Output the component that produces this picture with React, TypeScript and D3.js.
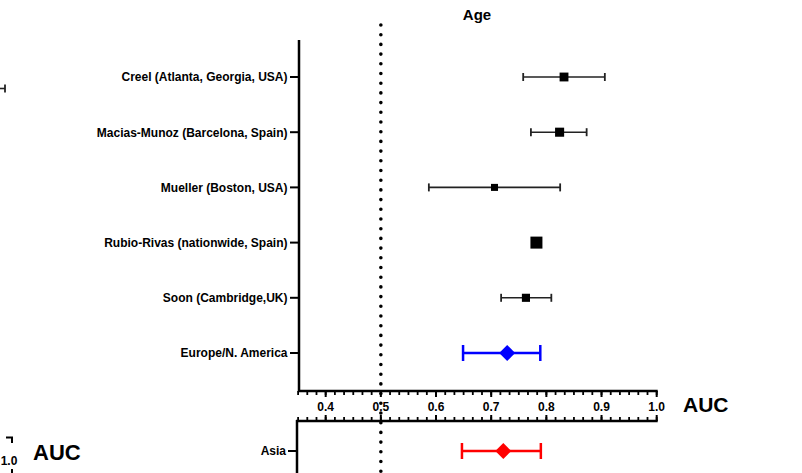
import React from "react";
import * as d3 from "d3";

// ---- data ----
const studies = [
  "Creel (Atlanta, Georgia, USA)",
  "Macias-Munoz (Barcelona, Spain)",
  "Mueller (Boston, USA)",
  "Rubio-Rivas (nationwide, Spain)",
  "Soon (Cambridge,UK)",
  "Europe/N. America",
];
const auc = [0.832, 0.824, 0.706, 0.782, 0.763, 0.729];
const lower = [0.758, 0.772, 0.587, 0.776, 0.718, 0.649];
const upper = [0.906, 0.873, 0.825, 0.788, 0.809, 0.789];
const weight = [19, 20, 12, 35, 16, 0];
const isPooled = [false, false, false, false, false, true];

const asiaLabel = ["Asia"];
const asiaAuc = [0.722];
const asiaLower = [0.647];
const asiaUpper = [0.79];

const majorTicks = [0.4, 0.5, 0.6, 0.7, 0.8, 0.9, 1.0];
const title = "Age";
const axisTitle = "AUC";

const FONT = "'Liberation Sans', Arial, Helvetica, sans-serif";

export default function App() {
  const W = 802,
    H = 473;
  const x = d3.scaleLinear().domain([0.35, 1.0]).range([298.1, 656.7]);
  const y = d3.scalePoint<string>().domain(studies).range([77, 353]);
  const yAsia = d3.scalePoint<string>().domain(asiaLabel).range([451, 451]);
  const size = d3.scaleSqrt().domain([0, 35]).range([0, 12]);

  const minorTicks = d3.range(0, 40).map((i) => 0.35 + i / 60).filter((v) => v <= 1.0001);

  const topAxisY = 391;
  const botAxisY = 421;
  const topYAxisX = 299;
  const botYAxisX = 297;

  const diamond = (cx: number, cy: number, r: number) =>
    `M${cx - r},${cy} L${cx},${cy - r} L${cx + r},${cy} L${cx},${cy + r} Z`;

  return (
    <div style={{ position: "absolute", left: 0, top: 0 }}>
      <svg width={W} height={H} style={{ display: "block", background: "#fff" }} fontFamily={FONT}>
        {/* left cut-off fragment */}
        <line x1={0} x2={5} y1={88.5} y2={88.5} stroke="#222" strokeWidth={1.6} />
        <line x1={5} x2={5} y1={84.5} y2={92.5} stroke="#222" strokeWidth={1.8} />
        <path d="M6,437.5 H12 V443" fill="none" stroke="#000" strokeWidth={2} />
        <text x={9} y={465} textAnchor="middle" fontSize={12} fontWeight="bold">1.0</text>
        <line x1={12} x2={12} y1={469} y2={473} stroke="#000" strokeWidth={2} />
        <text x={33} y={460} fontSize={22} fontWeight="bold">{axisTitle}</text>

        {/* title */}
        <text x={477} y={20} textAnchor="middle" fontSize={15} fontWeight="bold">{title}</text>

        {/* top panel axes */}
        <line x1={topYAxisX} x2={topYAxisX} y1={40} y2={topAxisY + 1} stroke="#000" strokeWidth={2.5} />
        <line x1={topYAxisX - 1} x2={x(1.0) + 1} y1={topAxisY} y2={topAxisY} stroke="#000" strokeWidth={2.5} />
        {minorTicks.map((v, i) => (
          <line key={"mt" + i} x1={x(v)} x2={x(v)} y1={topAxisY} y2={topAxisY + 4} stroke="#000" strokeWidth={1.8} />
        ))}
        {majorTicks.map((v) => (
          <line key={"Mt" + v} x1={x(v)} x2={x(v)} y1={topAxisY} y2={topAxisY + 6} stroke="#000" strokeWidth={2} />
        ))}
        {majorTicks.map((v) => (
          <text key={"tl" + v} x={x(v)} y={411} textAnchor="middle" fontSize={12} fontWeight="bold">
            {v.toFixed(1)}
          </text>
        ))}
        <text x={683} y={411.5} fontSize={21} fontWeight="bold">{axisTitle}</text>

        {/* y labels top */}
        {studies.map((s) => (
          <g key={"yl" + s}>
            <line x1={topYAxisX - 9} x2={topYAxisX} y1={y(s)} y2={y(s)} stroke="#000" strokeWidth={2} />
            <text x={287.5} y={(y(s) as number) + 4.3} textAnchor="end" fontSize={12} fontWeight="bold">
              {s}
            </text>
          </g>
        ))}

        {/* study marks */}
        {studies.map((s, i) => {
          const cy = y(s) as number;
          if (isPooled[i]) {
            return (
              <g key={"m" + s}>
                <line x1={x(lower[i])} x2={x(upper[i])} y1={cy} y2={cy} stroke="#0000ff" strokeWidth={2.5} />
                <line x1={x(lower[i])} x2={x(lower[i])} y1={cy - 8} y2={cy + 8} stroke="#0000ff" strokeWidth={2.5} />
                <line x1={x(upper[i])} x2={x(upper[i])} y1={cy - 8} y2={cy + 8} stroke="#0000ff" strokeWidth={2.5} />
                <path d={diamond(x(auc[i]), cy, 8)} fill="#0000ff" />
              </g>
            );
          }
          const sz = size(weight[i]);
          return (
            <g key={"m" + s}>
              <line x1={x(lower[i])} x2={x(upper[i])} y1={cy} y2={cy} stroke="#222" strokeWidth={1.6} />
              <line x1={x(lower[i])} x2={x(lower[i])} y1={cy - 4} y2={cy + 4} stroke="#222" strokeWidth={1.8} />
              <line x1={x(upper[i])} x2={x(upper[i])} y1={cy - 4} y2={cy + 4} stroke="#222" strokeWidth={1.8} />
              <rect x={x(auc[i]) - sz / 2} y={cy - sz / 2} width={sz} height={sz} fill="#000" />
            </g>
          );
        })}

        {/* bottom panel axes */}
        <line x1={botYAxisX} x2={botYAxisX} y1={botAxisY - 1} y2={H} stroke="#000" strokeWidth={2.5} />
        <line x1={botYAxisX - 1} x2={x(1.0) + 1} y1={botAxisY} y2={botAxisY} stroke="#000" strokeWidth={2.5} />
        {minorTicks.map((v, i) => (
          <line key={"bmt" + i} x1={x(v)} x2={x(v)} y1={botAxisY} y2={botAxisY - 4} stroke="#000" strokeWidth={1.8} />
        ))}
        {majorTicks.map((v) => (
          <line key={"bMt" + v} x1={x(v)} x2={x(v)} y1={botAxisY} y2={botAxisY - 6} stroke="#000" strokeWidth={2} />
        ))}
        {asiaLabel.map((s, i) => {
          const cy = yAsia(s) as number;
          return (
            <g key={"a" + s}>
              <line x1={botYAxisX - 9} x2={botYAxisX} y1={cy} y2={cy} stroke="#000" strokeWidth={2} />
              <text x={286} y={cy + 4.3} textAnchor="end" fontSize={12} fontWeight="bold">{s}</text>
              <line x1={x(asiaLower[i])} x2={x(asiaUpper[i])} y1={cy} y2={cy} stroke="#ff0000" strokeWidth={2.5} />
              <line x1={x(asiaLower[i])} x2={x(asiaLower[i])} y1={cy - 8} y2={cy + 8} stroke="#ff0000" strokeWidth={2.5} />
              <line x1={x(asiaUpper[i])} x2={x(asiaUpper[i])} y1={cy - 8} y2={cy + 8} stroke="#ff0000" strokeWidth={2.5} />
              <path d={diamond(x(asiaAuc[i]), cy, 8)} fill="#ff0000" />
            </g>
          );
        })}

        {/* reference line at 0.5 */}
        <line
          x1={x(0.5)}
          x2={x(0.5)}
          y1={25}
          y2={H + 5}
          stroke="#000"
          strokeWidth={3.6}
          strokeDasharray="0 9.7"
          strokeLinecap="round"
        />
      </svg>
    </div>
  );
}
